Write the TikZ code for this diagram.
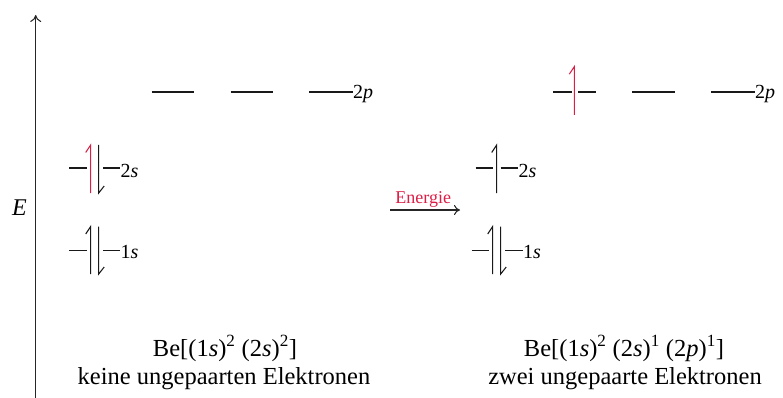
\documentclass[tikz,border=0pt]{standalone}
\usepackage{fontspec}
\setmainfont{Liberation Serif}
\usetikzlibrary{arrows.meta}
\definecolor{ered}{RGB}{220,30,70}
\begin{document}
\begin{tikzpicture}[x=1pt,y=-1pt,
  lvl/.style={line width=1.05pt, black!90},
  harp/.style={line width=1.05pt, black!90, line join=miter},
  redharp/.style={harp, ered},
  lab/.style={anchor=base west, inner sep=0pt, font=\fontsize{20}{24}\selectfont},
  big/.style={inner sep=0pt, font=\fontsize{24.5}{29}\selectfont},
  axisarrow/.style={line width=1.05pt, black!85, -{To[length=7pt,width=11pt]}}
]
\useasboundingbox (0,0) rectangle (783,398);

% energy axis
\coordinate (axb) at (35.7,398);
\coordinate (axt) at (35.7,15);
\draw[axisarrow] (axb) -- (axt);
\node[big, anchor=east, font=\fontsize{24}{29}\selectfont\itshape] (E) at (27,208) {E};

% ---------- left configuration ----------
% 2p
\draw[lvl] (151.7,92) -- (194,92);
\draw[lvl] (230.7,92) -- (273,92);
\draw[lvl] (309,92) -- (353,92);
\node[lab] (l2p) at (353,98.5) {2\textit{p}};
% 2s
\draw[lvl] (69,168) -- (87,168);
\draw[lvl] (103,168) -- (120,168);
\draw[redharp] (90.7,193) -- (90.7,145) -- ++(-5,7.5);
\draw[harp] (98.7,145) -- (98.7,193) -- ++(5.5,-7);
\node[lab] (l2s) at (120.5,177) {2\textit{s}};
% 1s
\draw[lvl] (69,250.7) -- (87,250.7);
\draw[lvl] (103,250.7) -- (120,250.7);
\draw[harp] (90.7,274) -- (90.7,226.5) -- ++(-5,7.5);
\draw[harp] (98.7,226.5) -- (98.7,274) -- ++(5.5,-7);
\node[lab] (l1s) at (120.5,258.3) {1\textit{s}};

% ---------- arrow ----------
\coordinate (ea) at (390,210);
\coordinate (eb) at (460,210);
\draw[line width=1.05pt, black!85, -{To[length=6pt,width=10pt]}] (ea) -- (eb);
\node[inner sep=0pt, anchor=base, text=ered, font=\fontsize{18}{22}\selectfont] (en) at (423.3,203.3) {Energie};

% ---------- right configuration ----------
% 2p
\draw[lvl] (553.3,92) -- (571.7,92);
\draw[lvl] (578.3,92) -- (596,92);
\draw[redharp] (574.3,115) -- (574.3,66.7) -- ++(-5,7.5);
\draw[lvl] (632.3,92) -- (675,92);
\draw[lvl] (711,92) -- (755,92);
\node[lab] (r2p) at (755,98.5) {2\textit{p}};
% 2s
\draw[lvl] (475.7,168) -- (493.3,168);
\draw[lvl] (500.7,168) -- (518.3,168);
\draw[harp] (496.7,193) -- (496.7,145) -- ++(-5,7.5);
\node[lab] (r2s) at (518.5,177) {2\textit{s}};
% 1s
\draw[lvl] (471.7,250.7) -- (489.3,250.7);
\draw[lvl] (505,250.7) -- (522.7,250.7);
\draw[harp] (492.7,274) -- (492.7,226.5) -- ++(-5,7.5);
\draw[harp] (500.7,226.5) -- (500.7,274) -- ++(5.5,-7);
\node[lab] (r1s) at (523,258.3) {1\textit{s}};

% ---------- captions ----------
\node[big, anchor=base] (lc1) at (225,356) {Be[(1\textit{s})\textsuperscript{2} (2\textit{s})\textsuperscript{2}]};
\node[big, anchor=base] (lc2) at (224,384) {keine ungepaarten Elektronen};
\node[big, anchor=base] (rc1) at (624,356) {Be[(1\textit{s})\textsuperscript{2} (2\textit{s})\textsuperscript{1} (2\textit{p})\textsuperscript{1}]};
\node[big, anchor=base] (rc2) at (625,384) {zwei ungepaarte Elektronen};
\end{tikzpicture}
\end{document}
